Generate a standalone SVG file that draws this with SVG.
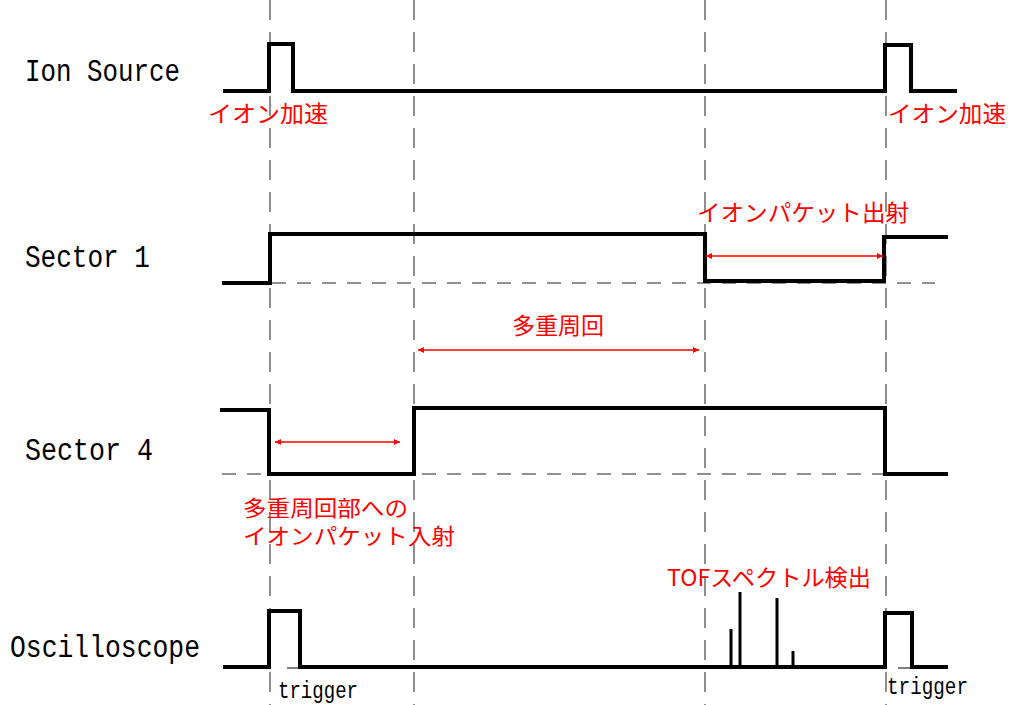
<svg xmlns="http://www.w3.org/2000/svg" width="1012" height="705" viewBox="0 0 1012 705">
<defs>
<style>
.lbl{font-family:"Liberation Mono","DejaVu Sans Mono",monospace;font-size:31px;fill:#000}
.trg{font-family:"Liberation Mono","DejaVu Sans Mono",monospace;font-size:23px;fill:#000}
.jp{font-family:"Noto Sans CJK JP","Noto Sans",sans-serif;font-size:23px;fill:#ff0000}
.jp2{font-family:"Noto Sans CJK JP","Noto Sans",sans-serif;font-size:22px;fill:#ff0000}
.sig{fill:none;stroke:#000;stroke-width:4;stroke-linejoin:miter}
.peak{stroke:#000;stroke-width:3}
.vdash{stroke:#444;stroke-width:1.2;stroke-dasharray:20,12}
.hdash{stroke:#222;stroke-width:1.2;stroke-dasharray:14,11}
.arr{stroke:#ff0000;stroke-width:1.5;marker-start:url(#ah);marker-end:url(#ah)}
</style>
<marker id="ah" viewBox="0 0 10 10" refX="10" refY="5" markerWidth="10" markerHeight="6" markerUnits="userSpaceOnUse" orient="auto-start-reverse">
<path d="M0,0 L10,5 L0,10 z" fill="#ff0000"/>
</marker>
</defs>
<rect width="1012" height="705" fill="#fff"/>
<g id="guides">
<line class="vdash" x1="270" y1="0" x2="270" y2="705"/>
<line class="vdash" x1="414" y1="0" x2="414" y2="705"/>
<line class="vdash" x1="705" y1="0" x2="705" y2="705"/>
<line class="vdash" x1="886" y1="0" x2="886" y2="705"/>
<line class="hdash" x1="222" y1="283" x2="935" y2="283"/>
<line class="hdash" x1="222" y1="474" x2="935" y2="474"/>
</g>
<g id="ion-source">
<text class="lbl" x="25" y="81" textLength="155" lengthAdjust="spacingAndGlyphs">Ion Source</text>
<path class="sig" d="M223,91 H269 V44 H293 V91 H885 V45 H911 V91 H957"/>
<text class="jp" x="208" y="122" textLength="120" lengthAdjust="spacingAndGlyphs">イオン加速</text>
<text class="jp" x="888" y="122" textLength="118" lengthAdjust="spacingAndGlyphs">イオン加速</text>
</g>
<g id="sector1">
<text class="lbl" x="25" y="267" textLength="125" lengthAdjust="spacingAndGlyphs">Sector 1</text>
<path class="sig" d="M222,283 H270 V234 H705 V281 H884 V237 H948"/>
<text class="jp" x="697" y="221" textLength="212" lengthAdjust="spacingAndGlyphs">イオンパケット出射</text>
</g>
<g id="sector4">
<text class="lbl" x="25" y="460" textLength="128" lengthAdjust="spacingAndGlyphs">Sector 4</text>
<path class="sig" d="M220,410 H269 V474 H414 V408 H885 V474 H948"/>
<text class="jp2"><tspan x="243" y="516" textLength="165" lengthAdjust="spacingAndGlyphs">多重周回部への</tspan><tspan x="243" y="544" textLength="212" lengthAdjust="spacingAndGlyphs">イオンパケット入射</tspan></text>
</g>
<g id="multi-turn">
<text class="jp" x="512" y="334" textLength="92" lengthAdjust="spacingAndGlyphs">多重周回</text>
</g>
<g id="oscilloscope">
<text class="lbl" x="10" y="657" textLength="190" lengthAdjust="spacingAndGlyphs">Oscilloscope</text>
<path class="sig" d="M223,667 H269 V611 H300 V667 H885 V613 H912 V667 H948"/>
<line class="peak" x1="731" y1="667" x2="731" y2="629"/>
<line class="peak" x1="740" y1="667" x2="740" y2="592"/>
<line class="peak" x1="777" y1="667" x2="777" y2="598"/>
<line class="peak" x1="793" y1="667" x2="793" y2="651"/>
<line x1="287" y1="668" x2="300" y2="668" stroke="#000" stroke-width="1"/>
<line x1="898" y1="668" x2="912" y2="668" stroke="#000" stroke-width="1"/>
<text class="jp" x="667" y="586" textLength="204" lengthAdjust="spacingAndGlyphs">TOFスペクトル検出</text>
<text class="trg" x="278" y="698" textLength="80" lengthAdjust="spacingAndGlyphs">trigger</text>
<text class="trg" x="887" y="694" textLength="81" lengthAdjust="spacingAndGlyphs">trigger</text>
</g>
<g id="connectors">
<line class="arr" x1="706" y1="256" x2="883" y2="256"/>
<line class="arr" x1="418" y1="350" x2="699" y2="350"/>
<line class="arr" x1="275" y1="442" x2="400" y2="442"/>
</g>
</svg>
